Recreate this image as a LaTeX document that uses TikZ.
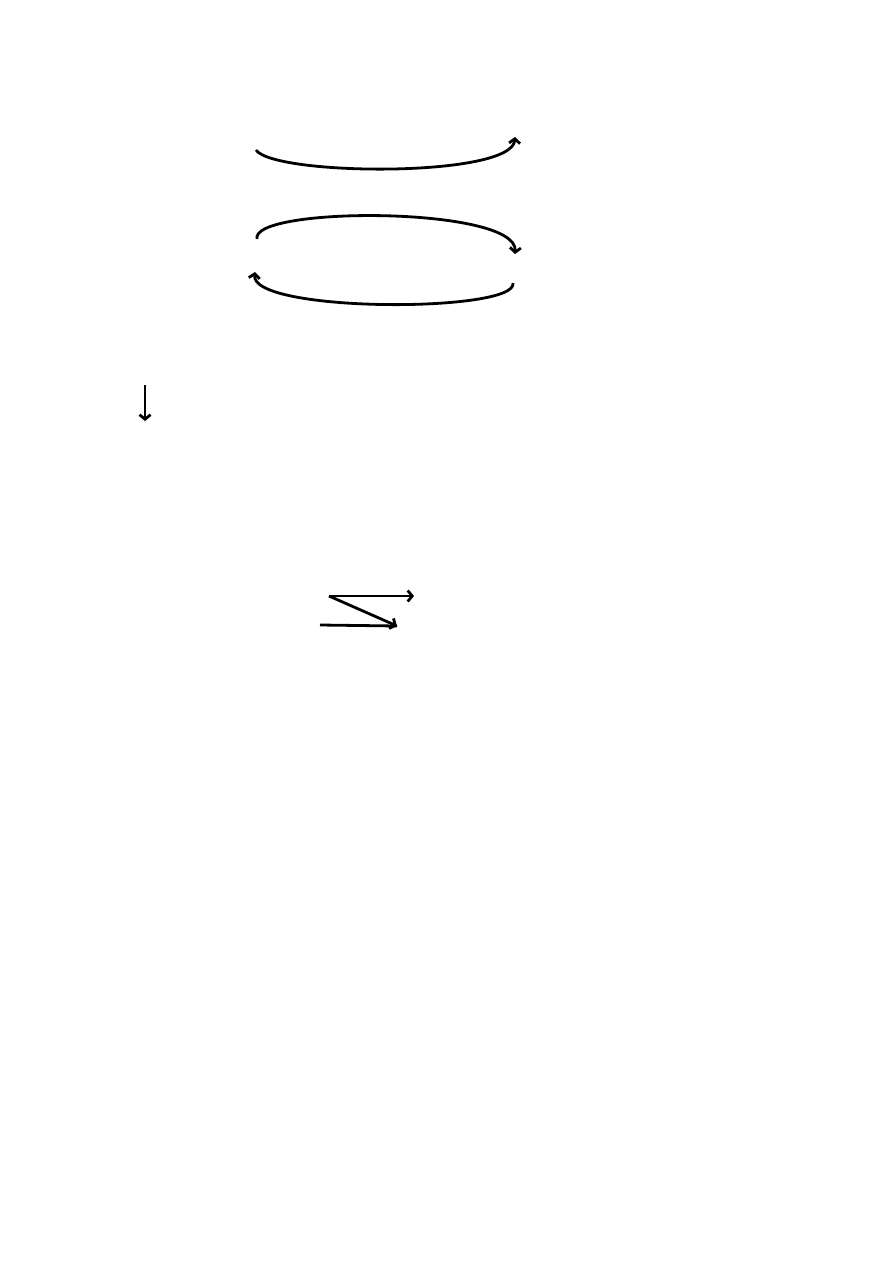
\documentclass[tikz,border=0pt]{standalone}
\usepackage{tikz}
\usetikzlibrary{arrows.meta}
\tikzset{
    flow-line/.style = {draw=black, line width=2.8pt},
    flow-arrow/.style = {flow-line, -{Straight Barb[length=4.5pt,width=11pt]}},
}
\begin{document}
\begin{tikzpicture}[x=1pt,y=-1pt]
\useasboundingbox (0,0) rectangle (894,1263);
% loops at the top
\coordinate (loopa-start) at (256,150);
\coordinate (loopa-end) at (515,137);
\coordinate (loopb-start) at (257,239);
\coordinate (loopb-end) at (515,254);
\coordinate (loopc-start) at (513,283);
\coordinate (loopc-end) at (255,272);
\draw[flow-arrow] (loopa-start) .. controls (274,176) and (512,178) .. (loopa-end);
\draw[flow-arrow] (loopb-start) .. controls (250,206) and (518,206) .. (loopb-end);
\draw[flow-arrow] (loopc-start) .. controls (518,313) and (250,313) .. (loopc-end);
% short arrow down
\coordinate (down-start) at (145,385);
\coordinate (down-end) at (145,421);
\draw[flow-arrow] (down-start) -- (down-end);
% zigzag arrows
\coordinate (zig-top) at (329,596);
\coordinate (zig-right) at (414,596);
\coordinate (zig-low) at (320,625);
\coordinate (zig-tip) at (397,626);
\draw[flow-arrow] (zig-top) -- (zig-right);
\draw[flow-arrow] (zig-top) -- (zig-tip);
\draw[flow-line] (zig-low) -- (zig-tip);
\end{tikzpicture}
\end{document}
